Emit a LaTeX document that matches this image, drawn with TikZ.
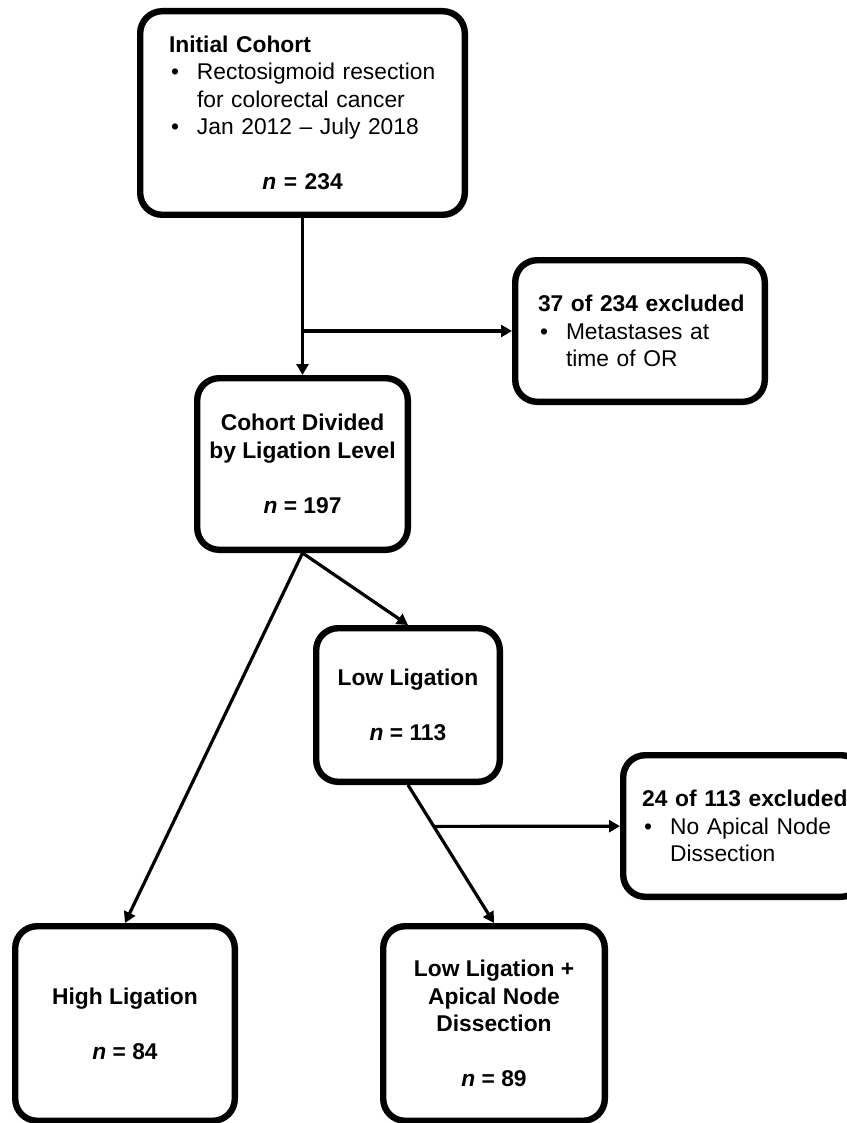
\documentclass[tikz,border=0pt]{standalone}
\usepackage{fontspec}
\setmainfont{Liberation Sans}
\usetikzlibrary{arrows.meta,positioning}

% bullet line with hanging indent
\newcommand{\bitem}[1]{\par\hangindent=14pt\hangafter=1\makebox[14pt][l]{\hspace{1pt}\textbullet}#1}

\begin{document}
\begin{tikzpicture}[x=0.5pt,y=-0.5pt,>={Triangle[length=5.5pt,width=6pt]},
  stage/.style={draw,line width=3.2pt,rounded corners=11pt,inner sep=0pt,font=\fontsize{11.4}{13.75}\selectfont},
  ctr/.style={stage,align=center,font=\fontsize{11.4}{13.75}\selectfont\bfseries},
  lnk/.style={->,line width=1.6pt}]
\useasboundingbox (0,0) rectangle (846,1123);
\node[stage,minimum width=162.3pt,minimum height=101.8pt,text width=140pt] (init) at (302.5,113)
  {\raggedright\leftskip=3.25pt\textbf{Initial Cohort}
   \bitem{Rectosigmoid resection\newline for colorectal cancer}
   \bitem{Jan 2012 – July 2018}
   \par\vspace{\baselineskip}\centering\textbf{\textit{n} = 234}\par};
\node[stage,minimum width=124.8pt,minimum height=70.8pt,text width=105pt,below right=19.5pt and 22pt of init.south east] (excl1)
  {\raggedright\leftskip=1.5pt\textbf{37 of 234 excluded}\bitem{Metastases at\newline time of OR}\par};
\node[ctr,minimum width=105.3pt,minimum height=85.8pt,below=78.5pt of init] (div) {Cohort Divided\\by Ligation Level\\[13.75pt]\textit{n} = 197};
\node[ctr,minimum width=91.8pt,minimum height=76.8pt,below right=36pt and 5.25pt of div.south] (low) {Low Ligation\\[13.75pt]\textit{n} = 113};
\node[stage,minimum width=120pt,minimum height=70.8pt,text width=110pt,below right=63.5pt and 58.5pt of low.north east] (excl2)
  {\raggedright\leftskip=4.5pt\textbf{24 of 113 excluded}\bitem{No Apical Node\newline Dissection}\par};
\node[ctr,minimum width=109.8pt,minimum height=97.3pt,below left=185pt and 32.25pt of div.south] (high) {High Ligation\\[13.75pt]\textit{n} = 84};
\node[ctr,minimum width=110.8pt,minimum height=97.3pt,below right=69pt and 33.5pt of low.south west] (apical) {Low Ligation +\\Apical Node\\Dissection\\[13.75pt]\textit{n} = 89};
\draw[lnk] (init) -- (div);
\coordinate (split1) at (init.south |- excl1.west);
\draw[lnk] (split1) -- (excl1);
\draw[lnk] (div.south) -- (high.north);
\draw[lnk] (div.south) -- (low.north);
\draw[lnk] (low.south) -- coordinate[pos=0.3] (split2) (apical.north);
\draw[lnk] (split2) -- (excl2);
\end{tikzpicture}
\end{document}
